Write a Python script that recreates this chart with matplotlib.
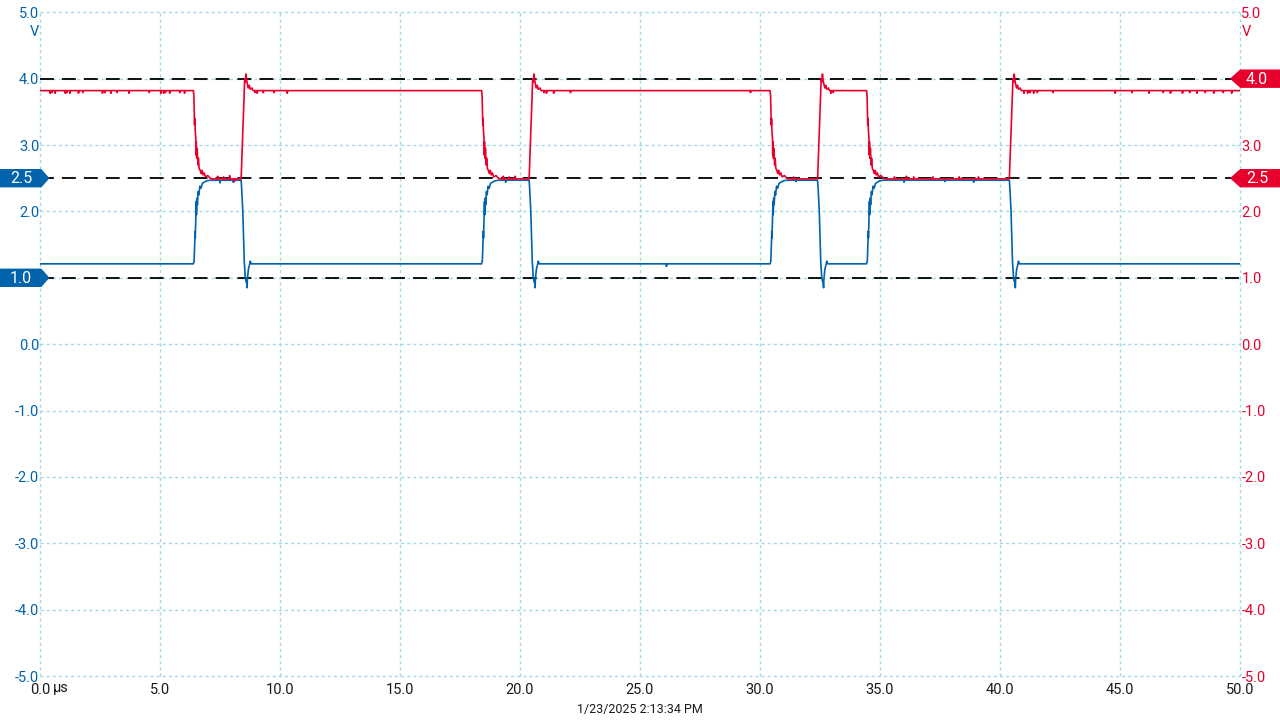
import matplotlib
matplotlib.use("Agg")
import matplotlib.pyplot as plt
from matplotlib.patches import Polygon

plt.rcParams['font.family'] = ['Roboto', 'DejaVu Sans']
plt.rcParams['lines.scale_dashes'] = False

# ---------------- data ----------------
x_ticks = [0, 5, 10, 15, 20, 25, 30, 35, 40, 45, 50]
x_tick_labels = ["0.0", "5.0", "10.0", "15.0", "20.0", "25.0", "30.0", "35.0", "40.0", "45.0", "50.0"]
y_ticks = [5, 4, 3, 2, 1, 0, -1, -2, -3, -4, -5]
left_tick_labels = ["5.0", "4.0", "3.0", "2.0", "", "0.0", "-1.0", "-2.0", "-3.0", "-4.0", "-5.0"]
right_tick_labels = ["5.0", "", "3.0", "2.0", "1.0", "0.0", "-1.0", "-2.0", "-3.0", "-4.0", "-5.0"]
ref_levels = [4.0, 2.5, 1.0]
blue_markers = [2.5, 1.0]
red_markers = [4.0, 2.5]
timestamp = "1/23/2025 2:13:34 PM"

# edge times (µs)
fall_times = [6.39, 18.40, 30.42, 34.44]   # red falls / blue rises
rise_times = [8.38, 20.38, 32.40, 40.39]   # red rises / blue falls

red_high = 3.82
red_mid = 2.49
blue_low = 1.21
blue_mid = 2.47

# edge shapes (offset µs, volts)
red_fall_shape = [(0.00, 3.82), (0.02, 3.75), (0.04, 3.45), (0.05, 3.30), (0.06, 3.40), (0.08, 3.20),
                  (0.10, 3.10), (0.11, 2.85), (0.12, 3.05), (0.14, 2.80), (0.16, 2.95), (0.19, 2.70),
                  (0.21, 2.80), (0.24, 2.65), (0.28, 2.62), (0.32, 2.57), (0.36, 2.62), (0.40, 2.55),
                  (0.45, 2.58), (0.50, 2.52), (0.60, 2.54), (0.70, 2.50), (0.80, 2.49)]
red_rise_shape = [(0.00, 2.49), (0.04, 2.90), (0.08, 3.30), (0.12, 3.75), (0.15, 4.00), (0.18, 3.95),
                  (0.20, 4.07), (0.23, 3.98), (0.26, 3.92), (0.30, 3.86), (0.34, 3.90), (0.38, 3.84),
                  (0.45, 3.86), (0.50, 3.82)]
blue_rise_shape = [(0.00, 1.21), (0.03, 1.25), (0.06, 1.55), (0.07, 1.70), (0.08, 1.60), (0.10, 1.90),
                   (0.12, 2.15), (0.13, 1.95), (0.15, 2.20), (0.17, 2.10), (0.20, 2.30), (0.23, 2.25),
                   (0.27, 2.38), (0.32, 2.35), (0.37, 2.42), (0.45, 2.44), (0.55, 2.46), (0.70, 2.47)]
blue_fall_shape = [(0.00, 2.47), (0.03, 2.30), (0.07, 2.00), (0.10, 1.60), (0.13, 1.25), (0.17, 1.02),
                   (0.20, 0.95), (0.23, 0.92), (0.25, 0.85), (0.26, 0.97), (0.30, 1.12), (0.34, 1.18),
                   (0.38, 1.25), (0.42, 1.21)]

# small glitches on flat parts: (time, base level, glitch level)
red_glitches = [(0.42, 3.82, 3.78), (0.50, 3.82, 3.79), (0.63, 3.82, 3.78), (1.05, 3.82, 3.78),
                (1.12, 3.82, 3.79), (1.25, 3.82, 3.78), (1.60, 3.82, 3.78), (1.78, 3.82, 3.79),
                (2.60, 3.82, 3.78), (2.70, 3.82, 3.79), (2.95, 3.82, 3.78), (3.20, 3.82, 3.79),
                (3.70, 3.82, 3.78), (4.55, 3.82, 3.79), (5.03, 3.82, 3.78), (5.15, 3.82, 3.78),
                (5.22, 3.82, 3.79), (5.40, 3.82, 3.78), (5.82, 3.82, 3.79), (6.02, 3.82, 3.78),
                (8.95, 3.82, 3.79), (9.05, 3.82, 3.78), (9.30, 3.82, 3.79), (9.75, 3.82, 3.79),
                (10.30, 3.82, 3.78), (21.00, 3.82, 3.79), (21.10, 3.82, 3.78), (21.40, 3.82, 3.78),
                (22.10, 3.82, 3.79), (29.60, 3.82, 3.79), (32.95, 3.82, 3.78), (33.05, 3.82, 3.79),
                (41.00, 3.82, 3.78), (41.15, 3.82, 3.78), (41.25, 3.82, 3.79), (41.40, 3.82, 3.78),
                (41.55, 3.82, 3.79), (42.20, 3.82, 3.79), (44.80, 3.82, 3.78), (45.50, 3.82, 3.79),
                (46.20, 3.82, 3.78), (46.80, 3.82, 3.79), (47.10, 3.82, 3.78), (47.60, 3.82, 3.78),
                (47.90, 3.82, 3.79), (48.20, 3.82, 3.78), (48.55, 3.82, 3.79), (48.90, 3.82, 3.78),
                (49.30, 3.82, 3.79), (49.65, 3.82, 3.78),
                (7.40, 2.49, 2.53), (7.65, 2.49, 2.52), (7.90, 2.49, 2.54), (8.10, 2.49, 2.45),
                (19.30, 2.49, 2.53), (19.55, 2.49, 2.52), (19.80, 2.49, 2.53), (31.40, 2.49, 2.52),
                (35.60, 2.49, 2.52), (36.10, 2.49, 2.53), (36.40, 2.49, 2.52), (37.20, 2.49, 2.52),
                (38.30, 2.49, 2.52), (39.10, 2.49, 2.52)]
blue_glitches = [(7.50, 2.47, 2.43), (7.80, 2.47, 2.50), (8.05, 2.47, 2.44), (19.40, 2.47, 2.44),
                 (19.70, 2.47, 2.50), (31.50, 2.47, 2.45), (36.00, 2.47, 2.44), (37.70, 2.47, 2.45),
                 (38.90, 2.47, 2.44), (26.10, 1.21, 1.17)]


def build_trace(start, shapes, glitches):
    pts = [(0.0, start, 0)]
    for t0, shape in shapes:
        for k, (dt, v) in enumerate(shape):
            pts.append((t0 + dt, v, 0))
    for tg, base, g in glitches:
        pts.append((tg, base, 1))
        pts.append((tg + 0.001, g, 1))
        pts.append((tg + 0.02, base, 1))
    pts.append((50.0, start, 0))
    pts.sort(key=lambda p: p[0])
    return [p[0] for p in pts], [p[1] for p in pts]


red_t, red_v = build_trace(red_high,
                           [(t, red_fall_shape) for t in fall_times] + [(t, red_rise_shape) for t in rise_times],
                           red_glitches)
blue_t, blue_v = build_trace(blue_low,
                             [(t, blue_rise_shape) for t in fall_times] + [(t, blue_fall_shape) for t in rise_times],
                             blue_glitches)

# ---------------- styling ----------------
BLUE = "#0063ac"
RED = "#e8002d"
GRID = "#a2d9e3"
W, H = 1280, 720

fig = plt.figure(figsize=(12.8, 7.2), dpi=100)
ax_left, ax_right, ax_top, ax_bot = 40, 1240, 12.3, 676
ax = fig.add_axes([ax_left / W, 1 - ax_bot / H, (ax_right - ax_left) / W, (ax_bot - ax_top) / H])
ax.set_xlim(0, 50)
ax.set_ylim(-5, 5)
for s in ax.spines.values():
    s.set_visible(False)

for xv in x_ticks:
    ax.axvline(xv, color=GRID, lw=1.0, dashes=(2.2, 2.2), zorder=1, clip_on=False)
for yv in y_ticks:
    ax.axhline(yv, color=GRID, lw=1.0, dashes=(2.2, 2.2), zorder=1, clip_on=False)

for lv in ref_levels:
    ax.axhline(lv, color="black", lw=1.3, dashes=(10, 5.8), zorder=2)

ax.plot(blue_t, blue_v, color=BLUE, lw=1.2, zorder=3)
ax.plot(red_t, red_v, color=RED, lw=1.2, zorder=4)

ax.set_xticks(x_ticks)
ax.set_xticklabels(x_tick_labels, color="#1a1a1a", fontsize=10.5)
ax.set_yticks(y_ticks)
ax.set_yticklabels(left_tick_labels, color=BLUE, fontsize=10.5)
ax.tick_params(axis='x', length=0, pad=5)
ax.tick_params(axis='y', length=0, pad=0.5)

ax2 = ax.twinx()
ax2.set_ylim(-5, 5)
for s in ax2.spines.values():
    s.set_visible(False)
ax2.set_yticks(y_ticks)
ax2.set_yticklabels(right_tick_labels, color=RED, fontsize=10.5)
ax2.tick_params(axis='y', length=0, pad=1)

# unit labels
ax.annotate("V", xy=(0, 1), xycoords='axes fraction', xytext=(-0.5, -14), textcoords='offset points',
            ha='right', va='center', color=BLUE, fontsize=10.5)
ax.annotate("V", xy=(1, 1), xycoords='axes fraction', xytext=(1, -14), textcoords='offset points',
            ha='left', va='center', color=RED, fontsize=10.5)
ax.annotate("µs", xy=(0, 0), xycoords='axes fraction', xytext=(9.2, -8.7), textcoords='offset points',
            ha='left', va='center', color="#1a1a1a", fontsize=10.5)
fig.text(0.5, 1 - 709 / H, timestamp, ha='center', va='center', color="#1a1a1a", fontsize=9)

# overlay for level markers
ov = fig.add_axes([0, 0, 1, 1], zorder=10)
ov.set_xlim(0, W)
ov.set_ylim(H, 0)
ov.axis('off')
ov.patch.set_alpha(0)


def ypix(v):
    return ax_top + (5 - v) / 10 * (ax_bot - ax_top)


for v in blue_markers:
    y = ypix(v)
    poly = [(0, y - 8.5), (41, y - 8.5), (48.5, y), (41, y + 8.5), (0, y + 8.5)]
    ov.add_patch(Polygon(poly, closed=True, facecolor=BLUE, edgecolor=BLUE, lw=1, joinstyle='round'))
    ov.text(21, y + 0.5, f"{v:.1f}", color="white", ha='center', va='center', fontsize=11.5)

for v in red_markers:
    y = ypix(v)
    poly = [(W, y - 8.5), (1240.5, y - 8.5), (1231, y), (1240.5, y + 8.5), (W, y + 8.5)]
    ov.add_patch(Polygon(poly, closed=True, facecolor=RED, edgecolor=RED, lw=1, joinstyle='round'))
    ov.text(1257, y + 0.5, f"{v:.1f}", color="white", ha='center', va='center', fontsize=11.5)

fig.savefig("out.png", dpi=100)
